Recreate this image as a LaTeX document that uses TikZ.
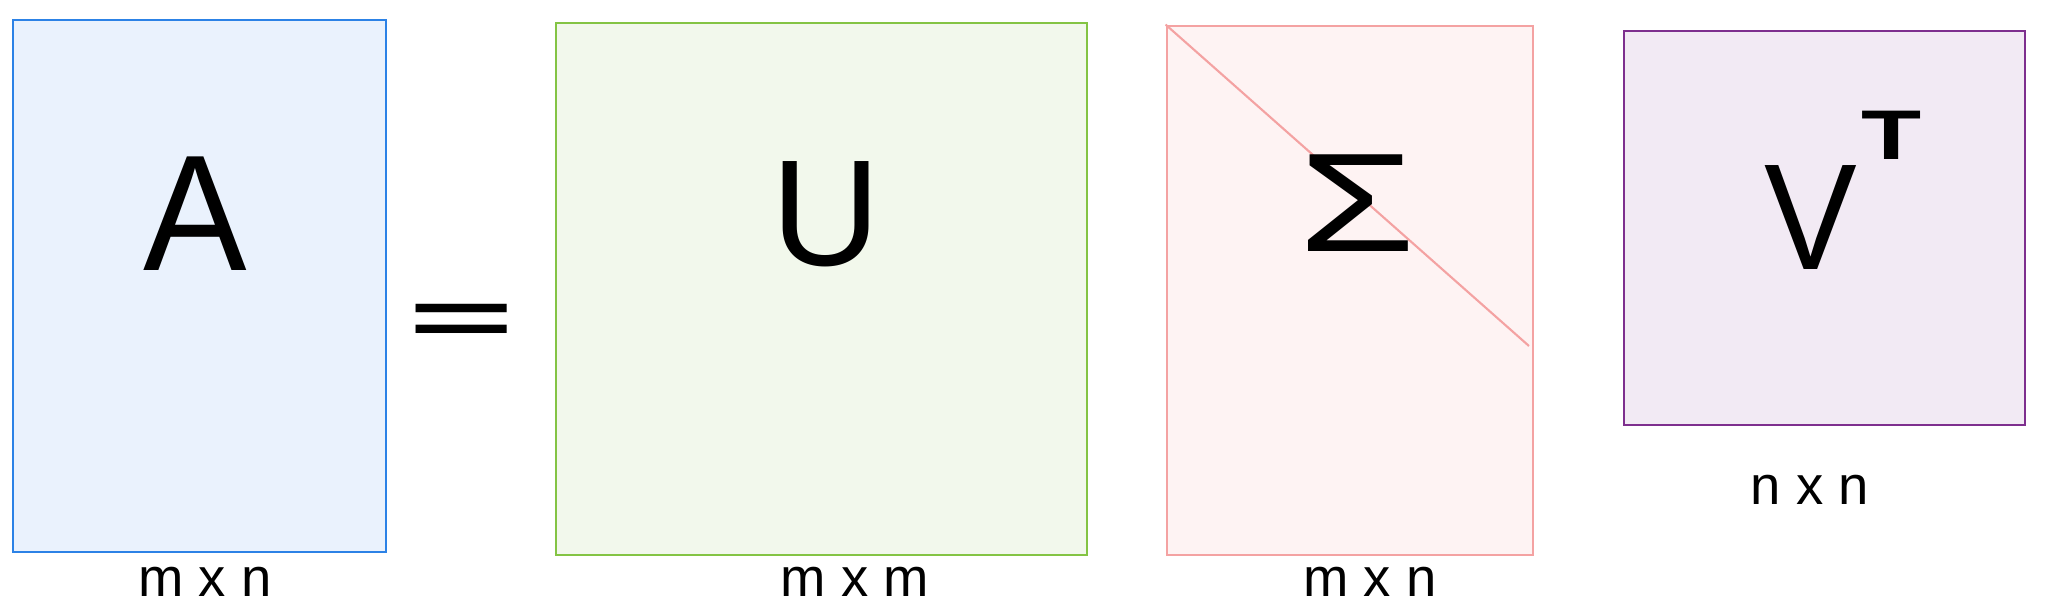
\documentclass[tikz,border=0pt]{standalone}
\usepackage{fontspec}
\setmainfont{Liberation Sans}
\usetikzlibrary{positioning}
\definecolor{ablue}{HTML}{2C82E6}
\definecolor{ablueF}{HTML}{EAF2FD}
\definecolor{ugreen}{HTML}{84C444}
\definecolor{ugreenF}{HTML}{F2F8EC}
\definecolor{spink}{HTML}{F4A2A2}
\definecolor{spinkF}{HTML}{FEF3F3}
\definecolor{vpurple}{HTML}{7E2F8E}
\definecolor{vpurpleF}{HTML}{F2EAF4}
\tikzset{
	mat/.style={draw, line width=0.8pt, inner sep=0pt},
	big/.style={anchor=base, inner sep=0pt, text=black},
	dims/.style={anchor=base, inner sep=0pt, font=\fontsize{15.5pt}{16pt}\selectfont}
}

\begin{document}
\begin{tikzpicture}
			%%%%% START %%%%%
			\useasboundingbox (0, 0) rectangle (20.48, 6.11);
			
			\node[mat, draw=ablue, fill=ablueF, minimum width=3.73cm, minimum height=5.32cm] (Abox) at (1.995, 3.25) {};
			\node[mat, draw=ugreen, fill=ugreenF, minimum width=5.31cm, minimum height=5.32cm] (Ubox) at (8.215, 3.22) {};
			\node[mat, draw=spink, fill=spinkF, minimum width=3.66cm, minimum height=5.29cm] (Sbox) at (13.50, 3.205) {};
			\node[mat, draw=vpurple, fill=vpurpleF, minimum width=4.01cm, minimum height=3.94cm] (Vbox) at (18.245, 3.83) {};
			
			\coordinate (Sdiag) at (15.29, 2.65);
			\draw[spink, line width=0.6pt] (Sbox.north west) -- (Sdiag);
			
			\node[big, xscale=0.94, font=\fontsize{47pt}{47pt}\selectfont] (A) at (1.95, 3.41) {A};
			\node[big, xscale=2.35, font=\fontsize{22pt}{22pt}\selectfont\bfseries] (eq) at (4.615, 2.67) {=};
			\node[big, font=\fontsize{43pt}{43pt}\selectfont] (U) at (8.26, 3.46) {U};
			\node[big, xscale=1.35, font=\fontsize{40pt}{40pt}\selectfont] (S) at (13.57, 3.60) {Σ};
			\node[big, anchor=base west, font=\fontsize{43pt}{43pt}\selectfont] (V) at (17.64, 3.42) {\scalebox{0.92}[1]{V}\hspace{0.04cm}\raisebox{1.1cm}{\fontsize{20pt}{20pt}\selectfont\bfseries\scalebox{1.4}[1]{T}}};
			
			\node[dims] (Alab) at (2.05, 0.15) {m x n};
			\node[dims] (Ulab) at (8.55, 0.15) {m x m};
			\node[dims] (Slab) at (13.70, 0.15) {m x n};
			\node[dims] (Vlab) at (18.10, 1.07) {n x n};
			
			%%%%% END %%%%%
\end{tikzpicture}
\end{document}
